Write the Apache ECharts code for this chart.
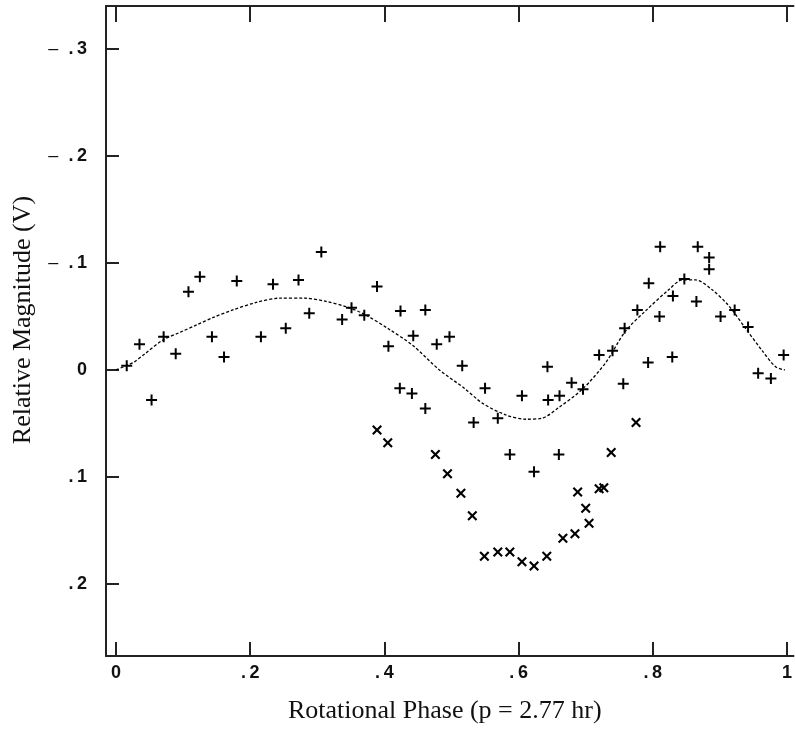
<!DOCTYPE html>
<html>
<head>
<meta charset="utf-8">
<script src="https://cdn.jsdelivr.net/npm/echarts@6/dist/echarts.min.js"></script>
<style>
html,body{margin:0;padding:0;background:#fff;}
#chart{width:795px;height:729px;}
</style>
</head>
<body>
<div id="chart"></div>
<script>
// Observations marked "+"
const plusPhase = [0.016,0.035,0.053,0.071,0.089,0.108,0.125,0.143,0.161,0.180,0.216,0.234,0.253,0.272,0.288,0.306,0.337,0.351,0.370,0.389,0.406,0.424,0.443,0.461,0.478,0.497,0.423,0.441,0.461,0.516,0.550,0.533,0.569,0.605,0.643,0.644,0.661,0.587,0.623,0.660,0.679,0.696,0.720,0.740,0.756,0.758,0.777,0.793,0.794,0.810,0.811,0.829,0.830,0.847,0.865,0.867,0.884,0.884,0.901,0.922,0.942,0.957,0.976,0.995];
const plusMag   = [-0.004,-0.024,0.028,-0.031,-0.015,-0.073,-0.087,-0.031,-0.012,-0.083,-0.031,-0.080,-0.039,-0.084,-0.053,-0.110,-0.047,-0.058,-0.051,-0.078,-0.022,-0.055,-0.032,-0.056,-0.024,-0.031,0.017,0.022,0.036,-0.004,0.017,0.049,0.045,0.024,-0.003,0.028,0.024,0.079,0.095,0.079,0.012,0.018,-0.014,-0.018,0.013,-0.039,-0.056,-0.007,-0.081,-0.050,-0.115,-0.012,-0.069,-0.085,-0.064,-0.115,-0.105,-0.094,-0.050,-0.056,-0.040,0.003,0.008,-0.014];
// Observations marked "x"
const crossPhase = [0.389,0.405,0.476,0.494,0.514,0.531,0.549,0.569,0.587,0.605,0.623,0.642,0.666,0.684,0.705,0.700,0.688,0.720,0.727,0.738,0.775];
const crossMag   = [0.056,0.068,0.079,0.097,0.115,0.136,0.174,0.170,0.170,0.179,0.183,0.174,0.157,0.153,0.143,0.129,0.114,0.111,0.110,0.077,0.049];
// Fitted light curve (dashed)
const curvePhase = [0,0.015,0.026,0.043,0.070,0.095,0.120,0.145,0.174,0.209,0.244,0.281,0.313,0.343,0.370,0.407,0.442,0.482,0.519,0.546,0.581,0.611,0.635,0.660,0.695,0.730,0.759,0.789,0.824,0.844,0.864,0.888,0.913,0.938,0.963,0.983,0.997];
const curveMag   = [0,-0.004,-0.007,-0.015,-0.028,-0.035,-0.042,-0.049,-0.056,-0.063,-0.067,-0.067,-0.064,-0.059,-0.052,-0.038,-0.023,0.000,0.017,0.031,0.042,0.046,0.045,0.035,0.018,-0.007,-0.036,-0.055,-0.075,-0.084,-0.084,-0.075,-0.060,-0.039,-0.018,-0.003,0];
// Tick values
const xTicks = [0,0.2,0.4,0.6,0.8,1];
const yTicks = [-0.3,-0.2,-0.1,0,0.1,0.2];

function fmtX(v){
  if (Math.abs(v) < 1e-9) return '0';
  if (Math.abs(v-1) < 1e-9) return '1';
  return '.\u2009' + String(Math.round(v*10));
}
function fmtY(v){
  if (Math.abs(v) < 1e-9) return '0';
  const d = String(Math.round(Math.abs(v)*10));
  if (v < 0) return '{m|\u2013}  .\u2009' + d;
  return '.\u2009' + d;
}
const zip = (a,b)=>a.map((v,i)=>[v,b[i]]);

const labelFont = {fontFamily:'Liberation Sans', fontWeight:'bold', fontSize:18, color:'#111'};
const plusSym = 'path://M4.5,0H6.5V4.5H11V6.5H6.5V11H4.5V6.5H0V4.5H4.5Z';
const crossSym = 'path://M0,1.5L1.5,0L5,3.5L8.5,0L10,1.5L6.5,5L10,8.5L8.5,10L5,6.5L1.5,10L0,8.5L3.5,5Z';

const chart = echarts.init(document.getElementById('chart'), null, {renderer:'canvas'});
chart.setOption({
  animation:false,
  backgroundColor:'#fff',
  grid:{left:106, top:6, right:0, bottom:72},
  xAxis:[{
    type:'value', min:-0.0149, max:1.0097, position:'bottom',
    axisLine:{show:true, onZero:false, lineStyle:{color:'#222', width:2}},
    axisTick:{show:true, inside:true, length:14, lineStyle:{color:'#222', width:2}, customValues:xTicks},
    axisLabel:Object.assign({show:true, margin:8, customValues:xTicks, formatter:fmtX}, labelFont),
    splitLine:{show:false},
    name:'Rotational Phase (p = 2.77 hr)', nameLocation:'middle', nameGap:42,
    nameTextStyle:{fontFamily:'Liberation Serif', fontSize:26, color:'#111', padding:[0,10,0,0]}
  },{
    type:'value', min:-0.0149, max:1.0097, position:'top',
    axisLine:{show:true, onZero:false, lineStyle:{color:'#222', width:2}},
    axisTick:{show:true, inside:true, length:16, lineStyle:{color:'#222', width:2}, customValues:xTicks},
    axisLabel:{show:false}, splitLine:{show:false}
  }],
  yAxis:[{
    type:'value', inverse:true, min:-0.3397, max:0.267, position:'left',
    axisLine:{show:true, onZero:false, lineStyle:{color:'#222', width:2}},
    axisTick:{show:true, inside:true, length:13, lineStyle:{color:'#222', width:2}, customValues:yTicks},
    axisLabel:Object.assign({show:true, margin:19, customValues:yTicks, formatter:fmtY,
      rich:{m:{fontFamily:'Liberation Sans', fontWeight:'normal', fontSize:18, color:'#111'}}}, labelFont),
    splitLine:{show:false},
    name:'Relative Magnitude (V)', nameLocation:'middle', nameGap:70, nameRotate:90,
    nameTextStyle:{fontFamily:'Liberation Serif', fontSize:26, color:'#111', padding:[0,0,0,22]}
  },{
    type:'value', inverse:true, min:-0.3397, max:0.267, position:'right',
    axisLine:{show:false},
    axisTick:{show:true, inside:true, length:4, lineStyle:{color:'#222', width:2}, customValues:yTicks},
    axisLabel:{show:false}, splitLine:{show:false}
  }],
  series:[{
    type:'line', data:zip(curvePhase, curveMag), symbol:'none', smooth:0.3,
    lineStyle:{color:'#000', width:1.3, type:[3,2]}, z:1
  },{
    type:'scatter', data:zip(plusPhase, plusMag), symbol:plusSym, symbolSize:11,
    itemStyle:{color:'#000', opacity:1}, z:2
  },{
    type:'scatter', data:zip(crossPhase, crossMag), symbol:crossSym, symbolSize:[10,10],
    itemStyle:{color:'#000', opacity:1}, z:2
  }]
});
</script>
</body>
</html>
